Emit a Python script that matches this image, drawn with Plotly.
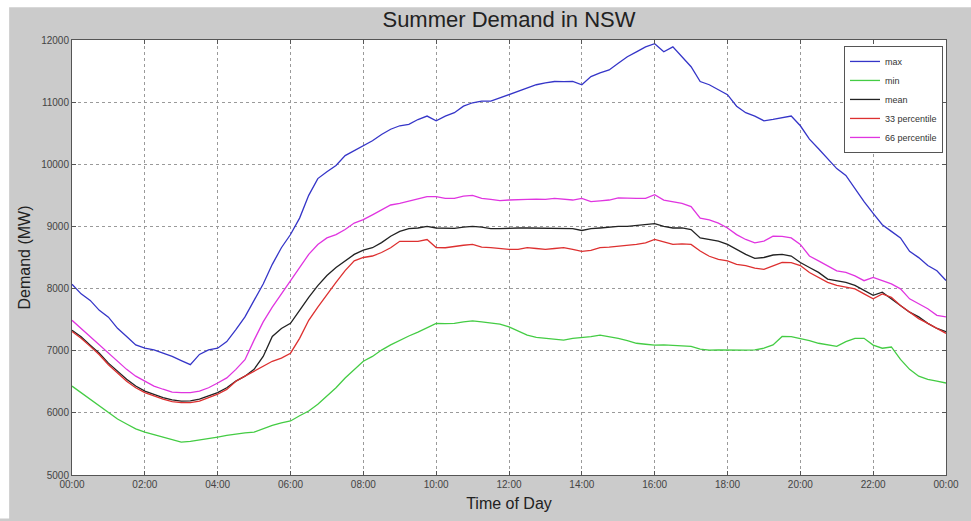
import plotly.graph_objects as go

# Quarter-hourly time of day (hours since midnight)
hours = [i * 0.25 for i in range(97)]
tick_hours = list(range(0, 25, 2))
tick_labels = ["00:00", "02:00", "04:00", "06:00", "08:00", "10:00", "12:00",
               "14:00", "16:00", "18:00", "20:00", "22:00", "00:00"]
y_ticks = [5000, 6000, 7000, 8000, 9000, 10000, 11000, 12000]
y_labels = [str(v) for v in y_ticks]

# Summer demand statistics (MW), one value per quarter hour
demand_max = [
    8070, 7915, 7810, 7650, 7540, 7360, 7230, 7094, 7040, 7014, 6960, 6908,
    6840, 6775, 6940, 7014, 7040, 7146, 7340, 7544, 7810, 8073, 8390, 8657,
    8870, 9134, 9500, 9770, 9880, 9981, 10140, 10220, 10300, 10379, 10480, 10564,
    10620, 10644, 10720, 10776, 10700, 10776, 10830, 10935, 10990, 11015, 11015, 11068,
    11120, 11174, 11230, 11280, 11310, 11332, 11330, 11332, 11280, 11412, 11470, 11518,
    11625, 11730, 11810, 11889, 11940, 11810, 11890, 11730, 11570, 11332, 11280, 11200,
    11120, 10935, 10830, 10776, 10700, 10723, 10750, 10776, 10620, 10405, 10250, 10087,
    9930, 9820, 9610, 9398, 9210, 9027, 8920, 8816, 8600, 8498, 8370, 8286, 8130]
demand_min = [
    6430, 6325, 6220, 6113, 6010, 5901, 5820, 5742, 5690, 5647, 5610, 5572,
    5530, 5541, 5560, 5583, 5610, 5636, 5660, 5678, 5690, 5742, 5800, 5838,
    5870, 5954, 6030, 6139, 6270, 6404, 6560, 6696, 6830, 6908, 7010, 7094,
    7170, 7237, 7300, 7374, 7440, 7437, 7440, 7464, 7480, 7464, 7445, 7428,
    7385, 7321, 7250, 7215, 7200, 7182, 7170, 7199, 7210, 7226, 7250, 7226,
    7200, 7162, 7120, 7104, 7090, 7094, 7090, 7083, 7070, 7025, 7010, 7014,
    7010, 7010, 7010, 7014, 7040, 7094, 7230, 7226, 7200, 7162, 7120, 7094,
    7070, 7146, 7200, 7199, 7090, 7040, 7060, 6860, 6700, 6590, 6540, 6510, 6480]
demand_mean = [
    7330, 7226, 7090, 6960, 6800, 6669, 6540, 6431, 6350, 6298, 6245, 6208,
    6190, 6192, 6220, 6272, 6325, 6404, 6510, 6590, 6700, 6908, 7230, 7358,
    7440, 7650, 7860, 8048, 8210, 8339, 8445, 8550, 8620, 8657, 8740, 8843,
    8920, 8964, 8975, 9001, 8975, 8975, 8970, 8990, 9000, 8990, 8965, 8965,
    8975, 8975, 8975, 8975, 8975, 8965, 8975, 8965, 8935, 8965, 8975, 8990,
    9000, 9001, 9015, 9030, 9045, 9001, 8975, 8975, 8950, 8816, 8790, 8763,
    8710, 8630, 8550, 8487, 8500, 8540, 8550, 8524, 8420, 8339, 8260, 8153,
    8130, 8100, 8050, 7968, 7890, 7941, 7835, 7729, 7620, 7544, 7440, 7358, 7305]
demand_p33 = [
    7310, 7199, 7070, 6934, 6775, 6642, 6510, 6404, 6325, 6272, 6220, 6181,
    6165, 6166, 6190, 6245, 6300, 6378, 6510, 6590, 6670, 6749, 6830, 6881,
    6960, 7199, 7490, 7703, 7910, 8100, 8290, 8445, 8500, 8524, 8580, 8657,
    8760, 8763, 8760, 8789, 8660, 8657, 8680, 8697, 8710, 8667, 8660, 8640,
    8630, 8630, 8660, 8645, 8630, 8645, 8660, 8630, 8600, 8615, 8660, 8667,
    8680, 8695, 8710, 8736, 8790, 8752, 8710, 8720, 8710, 8604, 8520, 8471,
    8445, 8391, 8370, 8328, 8310, 8366, 8420, 8418, 8370, 8259, 8180, 8100,
    8050, 8021, 7995, 7915, 7835, 7915, 7860, 7729, 7620, 7517, 7440, 7358, 7280]
demand_p66 = [
    7490, 7360, 7230, 7094, 6960, 6828, 6700, 6590, 6510, 6431, 6380, 6335,
    6325, 6325, 6350, 6404, 6480, 6563, 6700, 6855, 7170, 7464, 7700, 7914,
    8130, 8339, 8550, 8709, 8815, 8868, 8950, 9054, 9110, 9186, 9265, 9345,
    9370, 9409, 9450, 9478, 9480, 9452, 9450, 9489, 9500, 9452, 9435, 9415,
    9425, 9425, 9435, 9440, 9435, 9452, 9440, 9425, 9450, 9398, 9410, 9425,
    9460, 9452, 9450, 9452, 9510, 9425, 9400, 9372, 9320, 9134, 9105, 9054,
    8975, 8868, 8790, 8736, 8765, 8843, 8840, 8816, 8710, 8524, 8445, 8366,
    8285, 8259, 8205, 8127, 8180, 8127, 8075, 7995, 7835, 7755, 7675, 7570, 7545]

series = [
    ("max", demand_max, "#3535c8"),
    ("min", demand_min, "#44cc44"),
    ("mean", demand_mean, "#222222"),
    ("33 percentile", demand_p33, "#dd3030"),
    ("66 percentile", demand_p66, "#e035e0"),
]

FONT = "Liberation Sans, Arial, Helvetica, sans-serif"

fig = go.Figure()
for name, values, color in series:
    fig.add_trace(go.Scatter(x=hours, y=values, mode="lines", name=name,
                             line=dict(color=color, width=1.3)))

axis_common = dict(
    showline=True, linecolor="#555555", linewidth=1, mirror="ticks",
    ticks="inside", ticklen=4, tickcolor="#555555",
    showgrid=True, gridcolor="#9a9a9a", griddash="dot", gridwidth=1,
    zeroline=False,
    tickfont=dict(family=FONT, size=10, color="#444444"),
)

fig.update_xaxes(range=[0, 24], tickvals=tick_hours, ticktext=tick_labels,
                 title=dict(text="Time of Day", font=dict(family=FONT, size=16, color="#222222"),
                            standoff=8),
                 **axis_common)
fig.update_yaxes(range=[5000, 12000], tickvals=y_ticks, ticktext=y_labels,
                 title=dict(text="Demand (MW)", font=dict(family=FONT, size=16, color="#222222"),
                            standoff=6),
                 **axis_common)

# white strip along the top and left edges of the figure window
W, H = 971, 521
L, R, T, B = 72, 23, 40, 42
pw, ph = W - L - R, H - T - B


def px(x):
    return (x - L) / pw


def py(y):
    return (H - B - y) / ph


fig.add_shape(type="rect", xref="paper", yref="paper",
              x0=px(-2), x1=px(W + 2), y0=py(7), y1=py(-2),
              fillcolor="white", line=dict(width=0), layer="above")
fig.add_shape(type="rect", xref="paper", yref="paper",
              x0=px(-2), x1=px(9), y0=py(H + 2), y1=py(-2),
              fillcolor="white", line=dict(width=0), layer="above")

fig.update_layout(
    width=W, height=H,
    margin=dict(l=L, r=R, t=T, b=B),
    paper_bgcolor="#cbcbcb",
    plot_bgcolor="white",
    title=dict(text="Summer Demand in NSW", x=0.5, xref="paper", xanchor="center",
               y=1 - 19.5 / H, yanchor="middle",
               font=dict(family=FONT, size=22, color="#222222")),
    legend=dict(x=px(945), xanchor="right", y=py(46), yanchor="top",
                bgcolor="white", bordercolor="#555555", borderwidth=1,
                font=dict(family=FONT, size=9, color="#333333"),
                tracegroupgap=0, itemwidth=30),
    showlegend=True,
)

fig.write_html("out.html")
